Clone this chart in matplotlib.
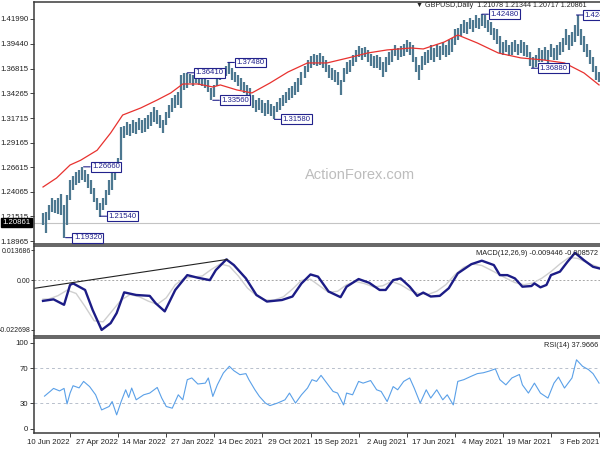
import matplotlib
matplotlib.use('Agg')
import matplotlib.pyplot as plt
from matplotlib.transforms import blended_transform_factory

plt.rcParams['font.family'] = ['Liberation Sans', 'DejaVu Sans']

# ---------------- data (chronological, day index 0 = 3 Feb 2021) ----------------
bar_day = list(range(0, 372, 2))
bar_high = [1.365, 1.371, 1.380, 1.388, 1.394, 1.402, 1.409, 1.424, 1.414, 1.406,
            1.403, 1.409, 1.400, 1.396, 1.393, 1.390, 1.394, 1.388, 1.391, 1.388,
            1.390, 1.383, 1.380, 1.386, 1.393, 1.396, 1.398, 1.394, 1.398, 1.396,
            1.393, 1.398, 1.396, 1.402, 1.409, 1.411, 1.417, 1.419, 1.424, 1.425,
            1.421, 1.424, 1.419, 1.421, 1.417, 1.419, 1.415, 1.411, 1.409, 1.400,
            1.398, 1.393, 1.396, 1.392, 1.394, 1.390, 1.393, 1.388, 1.386, 1.382,
            1.372, 1.380, 1.393, 1.396, 1.398, 1.394, 1.392, 1.390, 1.393, 1.388,
            1.386, 1.380, 1.375, 1.380, 1.383, 1.381, 1.384, 1.388, 1.391, 1.390,
            1.392, 1.388, 1.383, 1.377, 1.375, 1.369, 1.357, 1.365, 1.367, 1.369,
            1.372, 1.377, 1.382, 1.385, 1.383, 1.384, 1.381, 1.377, 1.371, 1.365,
            1.359, 1.355, 1.350, 1.348, 1.344, 1.341, 1.338, 1.334, 1.330, 1.332,
            1.336, 1.333, 1.336, 1.338, 1.336, 1.341, 1.348, 1.351, 1.355, 1.359,
            1.362, 1.365, 1.369, 1.375, 1.371, 1.369, 1.367, 1.365, 1.351, 1.348,
            1.357, 1.361, 1.362, 1.361, 1.364, 1.362, 1.363, 1.364, 1.364, 1.362,
            1.344, 1.341, 1.338, 1.331, 1.323, 1.315, 1.320, 1.326, 1.329, 1.323,
            1.320, 1.317, 1.315, 1.317, 1.313, 1.315, 1.311, 1.313, 1.309, 1.308,
            1.276, 1.269, 1.261, 1.253, 1.243, 1.234, 1.229, 1.234, 1.245, 1.253,
            1.259, 1.263, 1.266, 1.263, 1.261, 1.257, 1.253, 1.237, 1.227, 1.238,
            1.234, 1.232, 1.234, 1.227, 1.220, 1.219]
bar_low = [1.355, 1.357, 1.365, 1.373, 1.380, 1.386, 1.393, 1.402, 1.396, 1.392,
           1.388, 1.393, 1.386, 1.383, 1.377, 1.377, 1.380, 1.374, 1.377, 1.375,
           1.375, 1.370, 1.369, 1.371, 1.380, 1.382, 1.385, 1.383, 1.386, 1.383,
           1.382, 1.386, 1.383, 1.385, 1.394, 1.398, 1.403, 1.406, 1.411, 1.413,
           1.409, 1.411, 1.406, 1.409, 1.404, 1.405, 1.402, 1.398, 1.393, 1.386,
           1.383, 1.380, 1.383, 1.377, 1.380, 1.375, 1.377, 1.374, 1.372, 1.367,
           1.357, 1.365, 1.375, 1.383, 1.386, 1.382, 1.380, 1.377, 1.381, 1.375,
           1.372, 1.365, 1.360, 1.367, 1.369, 1.369, 1.371, 1.375, 1.380, 1.377,
           1.380, 1.375, 1.371, 1.365, 1.363, 1.355, 1.341, 1.351, 1.355, 1.357,
           1.359, 1.365, 1.369, 1.372, 1.371, 1.372, 1.369, 1.365, 1.359, 1.351,
           1.344, 1.341, 1.338, 1.336, 1.333, 1.330, 1.326, 1.323, 1.316, 1.319,
           1.321, 1.319, 1.322, 1.326, 1.323, 1.328, 1.336, 1.339, 1.343, 1.346,
           1.350, 1.355, 1.357, 1.363, 1.361, 1.359, 1.357, 1.350, 1.339, 1.336,
           1.344, 1.348, 1.350, 1.351, 1.353, 1.350, 1.354, 1.348, 1.346, 1.328,
           1.331, 1.328, 1.323, 1.317, 1.310, 1.302, 1.307, 1.311, 1.313, 1.309,
           1.306, 1.303, 1.302, 1.305, 1.301, 1.302, 1.299, 1.300, 1.296, 1.274,
           1.261, 1.253, 1.243, 1.237, 1.227, 1.222, 1.215, 1.222, 1.230, 1.238,
           1.245, 1.251, 1.253, 1.250, 1.248, 1.243, 1.232, 1.206, 1.193, 1.217,
           1.218, 1.219, 1.220, 1.211, 1.198, 1.206]

ma_day = [0, 10, 23, 37, 52, 67, 81, 94, 103, 117, 125, 141, 154, 167, 181, 194, 207,
          219, 231, 241, 252, 257, 267, 277, 285, 294, 305, 317, 325, 334, 345, 352, 361, 370]
ma_val = [1.3515, 1.3639, 1.3743, 1.3774, 1.3795, 1.3846, 1.3950, 1.4033, 1.3960, 1.3888,
          1.3898, 1.3878, 1.3846, 1.3795, 1.3743, 1.3743, 1.3649, 1.3535, 1.3432, 1.3463,
          1.3515, 1.3494, 1.3525, 1.3525, 1.3432, 1.3359, 1.3276, 1.3203, 1.3017, 1.2838,
          1.2734, 1.2685, 1.2550, 1.2457]

last_price = 1.20861

peak_day = [355, 332, 343, 274, 247, 257, 216, 78, 45, 15]
peak_price = [1.1932, 1.2154, 1.2666, 1.3641, 1.3748, 1.3356, 1.3158, 1.4248, 1.3688, 1.4240]
peak_label = ['1.19320', '1.21540', '1.26660', '1.36410', '1.37480', '1.33560',
              '1.31580', '1.42480', '1.36880', '1.42400']

macd_day = [0, 4, 10, 16, 21, 26, 32, 35, 39, 43, 45, 51, 56, 61, 66, 70, 78, 85, 94, 100,
            106, 112, 117, 121, 126, 132, 137, 142, 146, 153, 160, 168, 172, 180, 187, 192,
            198, 204, 211, 221, 228, 235, 243, 248, 255, 259, 267, 274, 282, 289, 295, 299,
            308, 316, 321, 325, 331, 337, 342, 350, 352, 356, 363, 370]
macd_val = [0.0055, 0.0062, 0.0092, 0.0126, 0.0085, 0.0040, 0.0024, -0.0021, -0.0032, -0.0014,
            -0.0026, -0.0029, 0.0009, 0.0024, 0.0024, 0.0070, 0.0090, 0.0074, 0.0032, -0.0036,
            -0.0071, -0.0074, -0.0056, -0.0071, -0.0029, 0.0009, 0.0001, -0.0044, -0.0044, -0.0011,
            0.0006, -0.0029, -0.0077, -0.0051, 0.0017, 0.0027, -0.0014, -0.0074, -0.0090, -0.0097,
            -0.0067, 0.0009, 0.0070, 0.0096, 0.0047, 0.0001, 0.0012, 0.0024, -0.0044, -0.0142,
            -0.0105, -0.0071, -0.0067, -0.0055, -0.0150, -0.0196, -0.0227, -0.0135, -0.0044, -0.0014,
            -0.0021, -0.0112, -0.0087, -0.0094]
signal_day = [0, 6, 14, 20, 26, 32, 38, 44, 50, 56, 62, 70, 78, 84, 90, 96, 102, 108, 114, 120,
              126, 132, 138, 144, 150, 156, 162, 168, 174, 180, 186, 192, 198, 204, 210, 216,
              222, 228, 234, 240, 246, 252, 258, 264, 270, 276, 282, 288, 294, 300, 306, 312,
              318, 324, 330, 336, 342, 348, 354, 360, 366, 370]
signal_val = [0.0060, 0.0075, 0.0100, 0.0105, 0.0075, 0.0040, 0.0010, -0.0012, -0.0020, -0.0010,
              0.0010, 0.0040, 0.0068, 0.0075, 0.0060, 0.0025, -0.0020, -0.0050, -0.0065, -0.0060,
              -0.0045, -0.0020, -0.0005, -0.0025, -0.0030, -0.0015, -0.0005, -0.0020, -0.0050, -0.0055,
              -0.0025, 0.0005, 0.0000, -0.0040, -0.0075, -0.0090, -0.0090, -0.0070, -0.0035, 0.0020,
              0.0065, 0.0075, 0.0050, 0.0020, 0.0015, 0.0010, -0.0020, -0.0080, -0.0110, -0.0095,
              -0.0075, -0.0065, -0.0090, -0.0140, -0.0190, -0.0185, -0.0120, -0.0060, -0.0045, -0.0070,
              -0.0085, -0.0086]
trend_day = [375.3, 247.3]
trend_val = [-0.0036, 0.0096]

rsi_day = [0, 4, 7, 11, 15, 18, 23, 27, 30, 34, 39, 43, 47, 51, 53, 58, 62, 66, 69, 73, 77, 81,
           85, 90, 94, 97, 101, 104, 108, 112, 115, 119, 123, 126, 130, 134, 137, 141, 145, 148,
           152, 157, 160, 164, 168, 170, 174, 177, 182, 185, 188, 191, 194, 198, 202, 206, 209,
           214, 219, 222, 226, 229, 233, 235, 239, 243, 246, 250, 254, 257, 260, 262, 267, 271,
           274, 277, 280, 284, 288, 291, 294, 299, 303, 308, 311, 313, 315, 318, 321, 324, 326,
           331, 335, 339, 343, 346, 350, 352, 354, 356, 359, 363, 365, 369]
rsi_val = [53, 64, 68.6, 72.5, 80, 59, 47.3, 60, 53, 35.7, 41.5, 53, 41.5, 51, 63, 59, 51, 57,
           69.5, 67, 65, 64, 61, 57, 55, 27.8, 39.5, 33.7, 45.3, 35.7, 45.3, 29.9, 47.3, 59, 55,
           45.3, 49, 31.7, 43.4, 45.3, 56, 53, 55, 39.5, 41.5, 27.8, 41.5, 43.4, 55, 62, 55, 57,
           47.3, 39.5, 29.9, 41.5, 33.7, 29.9, 27, 29.9, 37.6, 45.3, 57, 64, 62.8, 67.4, 72.5,
           64.7, 51, 37.6, 59, 53, 52, 59, 57, 33.7, 39.5, 24, 26, 35.7, 48, 41.5, 39.5, 33.7,
           47.3, 36.4, 45.3, 31.7, 16.3, 31.7, 26, 22, 39.5, 49, 55, 47.5, 50, 41.5, 29, 46.9,
           44, 46.9, 43.8, 37.97]

date_tick_day = [0, 32, 64, 96, 128, 160, 192, 224, 256, 288, 320, 352]
date_tick_label = ['3 Feb 2021', '19 Mar 2021', '4 May 2021', '17 Jun 2021', '2 Aug 2021',
                   '15 Sep 2021', '29 Oct 2021', '14 Dec 2021', '27 Jan 2022', '14 Mar 2022',
                   '27 Apr 2022', '10 Jun 2022']

price_ticks = [1.41990, 1.39440, 1.36815, 1.34265, 1.31715, 1.29165, 1.26615, 1.24065,
               1.21515, 1.18965]
price_tick_labels = ['1.41990', '1.39440', '1.36815', '1.34265', '1.31715', '1.29165',
                     '1.26615', '1.24065', '1.21515', '1.18965']
macd_ticks = [0.013686, 0.0, -0.022698]
macd_tick_labels = ['0.013686', '0.00', '-0.022698']
rsi_ticks = [100, 70, 30, 0]

title_text = '\u25BC GBPUSD,Daily  1.21078 1.21344 1.20717 1.20861'
macd_text = 'MACD(12,26,9) -0.009446 -0.008572'
rsi_text = 'RSI(14) 37.9666'
watermark = 'ActionForex.com'

# ---------------- styling / layout ----------------
W, H = 600, 450
NAVY = '#22228c'
SPINE = '#3a3a3a'
XL = (376, -1.3)
FS = 5.6


def rect(x0, y0, x1, y1):
    return [x0 / W, 1 - y1 / H, (x1 - x0) / W, (y1 - y0) / H]


fig = plt.figure(figsize=(6, 4.5), dpi=100)
fig.patch.set_facecolor('white')
ax_p = fig.add_axes(rect(34, 1.5, 601, 244))
ax_m = fig.add_axes(rect(34, 245.5, 601, 336))
ax_r = fig.add_axes(rect(34, 337.5, 601, 433))

for ax in (ax_p, ax_m, ax_r):
    ax.set_xlim(*XL)
    for s in ax.spines.values():
        s.set_color(SPINE)
        s.set_linewidth(1.1)
    ax.spines['right'].set_visible(False)
    ax.tick_params(axis='y', length=3, width=0.6, labelsize=FS, pad=1, colors='#222222')

# ---- price panel ----
ax_p.set_ylim(1.1866, 1.4380)
ax_p.axhline(last_price, color='#c4c4c4', lw=0.8, zorder=1)
ax_p.vlines(bar_day, bar_low, bar_high, color='#4d7890', lw=1.6, zorder=2)
ax_p.plot(ma_day, ma_val, color='#e8322f', lw=0.9, zorder=3)
ax_p.set_yticks(price_ticks)
ax_p.set_yticklabels(price_tick_labels)
ax_p.set_xticks([])
for d, p, lab in zip(peak_day, peak_price, peak_label):
    ax_p.annotate(lab, xy=(d, p), xytext=(6, 0), textcoords='offset points',
                  ha='left', va='center', fontsize=FS, color=NAVY, zorder=5,
                  bbox=dict(boxstyle='square,pad=0.18', fc='white', ec=NAVY, lw=0.8),
                  arrowprops=dict(arrowstyle='-', color=NAVY, lw=0.8,
                                  shrinkA=0, shrinkB=0))
bt = blended_transform_factory(ax_p.transAxes, ax_p.transData)
ax_p.text(-0.006, last_price, '%.5f' % last_price, transform=bt, ha='right', va='center',
          color='white', fontsize=FS, clip_on=False, zorder=6,
          bbox=dict(boxstyle='square,pad=0.15', fc='black', ec='black'))
ax_p.text(0.975, 0.996, title_text, transform=ax_p.transAxes, ha='right', va='top',
          fontsize=5.1, color='#222222', zorder=7)
fig.text(360 / W, 1 - 175 / H, watermark, ha='center', va='center', fontsize=10.5,
         color='#bdbdbd')

# ---- MACD panel ----
ax_m.set_ylim(-0.02548, 0.01596)
ax_m.axhline(0, color='#a8a8a8', lw=0.7, ls=(0, (2, 2)), zorder=1)
ax_m.plot(signal_day, signal_val, color='#cfcfcf', lw=1.0, zorder=2)
ax_m.plot(macd_day, macd_val, color='#1c1c86', lw=1.7, zorder=3)
ax_m.plot(trend_day, trend_val, color='#222222', lw=0.8, zorder=4)
ax_m.set_yticks(macd_ticks)
ax_m.set_yticklabels(macd_tick_labels)
ax_m.tick_params(axis='y', length=2, pad=0.5, labelsize=5.0)
ax_m.set_xticks([])
ax_m.text(0.995, 0.95, macd_text, transform=ax_m.transAxes, ha='right', va='top',
          fontsize=5.3, color='#222222')

# ---- RSI panel ----
ax_r.set_ylim(-4.7, 105.8)
for lv in (70, 30):
    ax_r.axhline(lv, color='#b8c0cc', lw=0.7, ls=(0, (3, 3)), zorder=1)
ax_r.plot(rsi_day, rsi_val, color='#5aa0e8', lw=0.8, zorder=2)
ax_r.set_yticks(rsi_ticks)
ax_r.set_yticklabels([str(v) for v in rsi_ticks])
ax_r.set_xticks(date_tick_day)
ax_r.set_xticklabels(date_tick_label)
ax_r.tick_params(axis='x', length=3, width=0.6, labelsize=FS, pad=1.5, colors='#222222')
for lab in ax_r.get_xticklabels():
    lab.set_horizontalalignment('right')
ax_r.text(0.995, 0.95, rsi_text, transform=ax_r.transAxes, ha='right', va='top',
          fontsize=5.3, color='#222222')

fig.savefig('out.png', dpi=100, facecolor='white')
